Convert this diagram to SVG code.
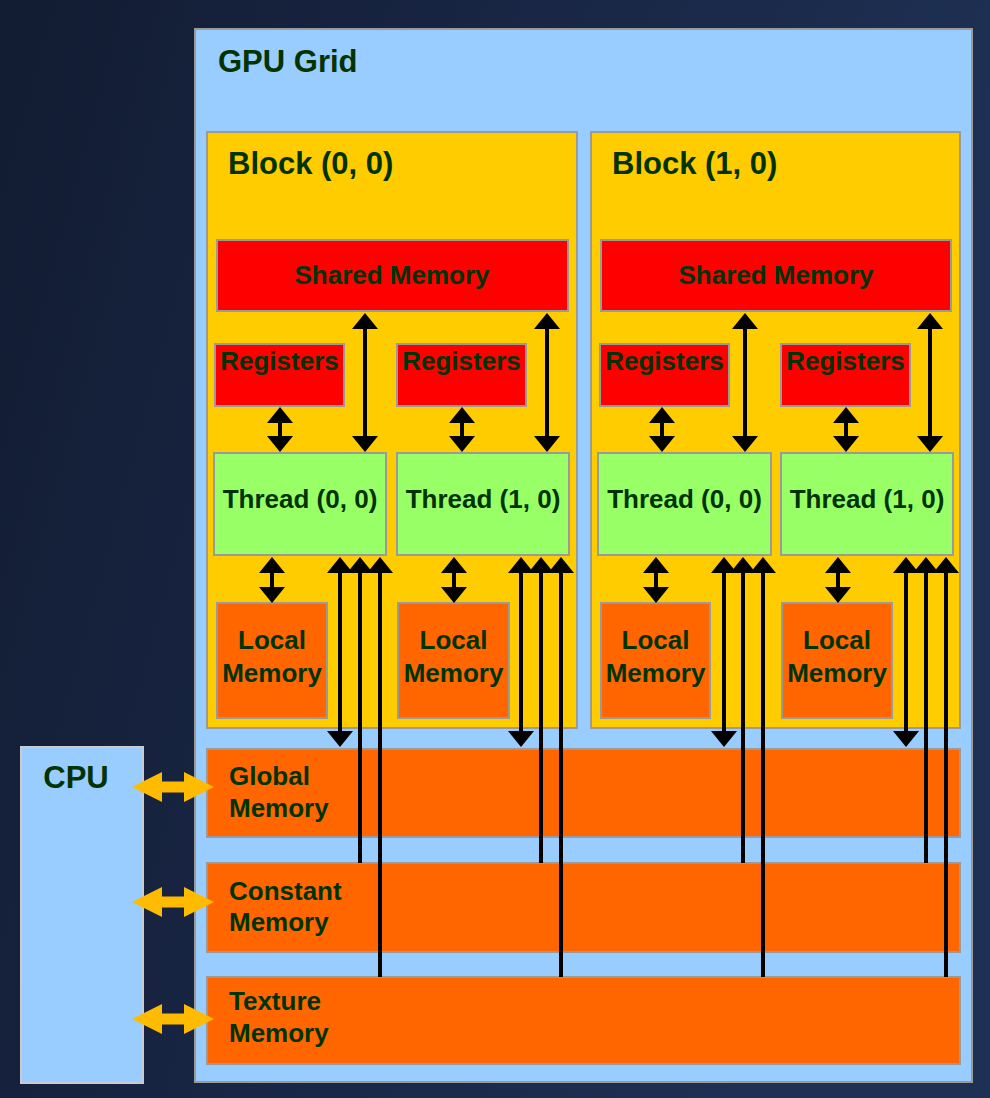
<svg xmlns="http://www.w3.org/2000/svg" width="990" height="1098" viewBox="0 0 990 1098">
<defs>
<linearGradient id="bg" x1="0" y1="0" x2="1" y2="0.3">
<stop offset="0" stop-color="#121c32"/>
<stop offset="0.6" stop-color="#1a2848"/>
<stop offset="1" stop-color="#1e3154"/>
</linearGradient>
<marker id="ah" viewBox="0 0 16 26" refX="13" refY="13" markerWidth="16" markerHeight="26" markerUnits="userSpaceOnUse" orient="auto-start-reverse">
<path d="M0,0 L16,13 L0,26 z" fill="#000"/>
</marker>
<g id="oarrow">
<path d="M0,0 L30,-15 L30,-5.5 L52,-5.5 L52,-15 L82,0 L52,15 L52,5.5 L30,5.5 L30,15 z" fill="#ffbb00"/>
</g>
</defs>
<style>
.t{font-family:"Liberation Sans",Arial,sans-serif;font-weight:bold;fill:#003300}
.h{font-size:31px}
.s{font-size:26px}
.c{text-anchor:middle}
.box{stroke:#9a9a9a;stroke-width:2}
.grid{fill:#99ccff}
.blk{fill:#ffcc00}
.red{fill:#ff0000}
.thr{fill:#99ff66}
.org{fill:#ff6600}
.ln{stroke:#000;stroke-width:4;fill:none}
.dbl{marker-start:url(#ah);marker-end:url(#ah)}
.up{marker-start:url(#ah)}
</style>
<rect width="990" height="1098" fill="url(#bg)"/>

<g id="cpu">
<rect x="21" y="747" width="122" height="336" fill="#99ccff" stroke="#c8ccd0" stroke-width="2"/>
<text class="t h c" x="76" y="788">CPU</text>
</g>

<g id="gpu-grid">
<rect class="box grid" x="195" y="29" width="777" height="1053"/>
<text class="t h" x="218" y="72">GPU Grid</text>
</g>

<g id="block-0-0">
<rect class="box blk" x="207" y="132" width="370" height="596"/>
<text class="t h" x="228" y="174">Block (0, 0)</text>
</g>
<g id="block-1-0">
<rect class="box blk" x="591" y="132" width="369" height="596"/>
<text class="t h" x="612" y="174">Block (1, 0)</text>
</g>

<g id="shared-0">
<rect class="box red" x="217" y="240" width="351" height="71"/>
<text class="t s c" x="392" y="284">Shared Memory</text>
</g>
<g id="shared-1">
<rect class="box red" x="601" y="240" width="350" height="71"/>
<text class="t s c" x="776" y="284">Shared Memory</text>
</g>

<g id="reg-0-0">
<rect class="box red" x="215" y="344" width="129" height="62"/>
<text class="t s c" x="279.5" y="370">Registers</text>
</g>
<g id="reg-0-1">
<rect class="box red" x="397" y="344" width="129" height="62"/>
<text class="t s c" x="461.5" y="370">Registers</text>
</g>
<g id="reg-1-0">
<rect class="box red" x="600" y="344" width="129" height="62"/>
<text class="t s c" x="664.5" y="370">Registers</text>
</g>
<g id="reg-1-1">
<rect class="box red" x="781" y="344" width="129" height="62"/>
<text class="t s c" x="845.5" y="370">Registers</text>
</g>

<g id="thread-0-0">
<rect class="box thr" x="214" y="453" width="172" height="102"/>
<text class="t s c" x="300" y="508">Thread (0, 0)</text>
</g>
<g id="thread-0-1">
<rect class="box thr" x="397" y="453" width="172" height="102"/>
<text class="t s c" x="483" y="508">Thread (1, 0)</text>
</g>
<g id="thread-1-0">
<rect class="box thr" x="598" y="453" width="173" height="102"/>
<text class="t s c" x="684.5" y="508">Thread (0, 0)</text>
</g>
<g id="thread-1-1">
<rect class="box thr" x="781" y="453" width="172" height="102"/>
<text class="t s c" x="867" y="508">Thread (1, 0)</text>
</g>

<g id="local-0-0">
<rect class="box org" x="217" y="603" width="110" height="115"/>
<text class="t s c" x="272" y="649">Local</text>
<text class="t s c" x="272" y="682">Memory</text>
</g>
<g id="local-0-1">
<rect class="box org" x="398" y="603" width="111" height="115"/>
<text class="t s c" x="453.5" y="649">Local</text>
<text class="t s c" x="453.5" y="682">Memory</text>
</g>
<g id="local-1-0">
<rect class="box org" x="601" y="603" width="109" height="115"/>
<text class="t s c" x="655.5" y="649">Local</text>
<text class="t s c" x="655.5" y="682">Memory</text>
</g>
<g id="local-1-1">
<rect class="box org" x="782" y="603" width="110" height="115"/>
<text class="t s c" x="837" y="649">Local</text>
<text class="t s c" x="837" y="682">Memory</text>
</g>

<g id="global-memory">
<rect class="box org" x="207" y="749" width="753" height="88"/>
<text class="t s" x="229" y="785">Global</text>
<text class="t s" x="229" y="817">Memory</text>
</g>
<g id="constant-memory">
<rect class="box org" x="207" y="863" width="753" height="89"/>
<text class="t s" x="229" y="900">Constant</text>
<text class="t s" x="229" y="931">Memory</text>
</g>
<g id="texture-memory">
<rect class="box org" x="207" y="977" width="753" height="87"/>
<text class="t s" x="229" y="1010">Texture</text>
<text class="t s" x="229" y="1042">Memory</text>
</g>

<g id="connectors">
<!-- registers <-> threads -->
<line class="ln dbl" x1="280" y1="410" x2="280" y2="449"/>
<line class="ln dbl" x1="462" y1="410" x2="462" y2="449"/>
<line class="ln dbl" x1="662" y1="410" x2="662" y2="449"/>
<line class="ln dbl" x1="846" y1="410" x2="846" y2="449"/>
<!-- shared <-> threads -->
<line class="ln dbl" x1="365" y1="316" x2="365" y2="449"/>
<line class="ln dbl" x1="547" y1="316" x2="547" y2="449"/>
<line class="ln dbl" x1="745" y1="316" x2="745" y2="449"/>
<line class="ln dbl" x1="930" y1="316" x2="930" y2="449"/>
<!-- threads <-> local -->
<line class="ln dbl" x1="272" y1="560" x2="272" y2="600"/>
<line class="ln dbl" x1="454" y1="560" x2="454" y2="600"/>
<line class="ln dbl" x1="656" y1="560" x2="656" y2="600"/>
<line class="ln dbl" x1="838" y1="560" x2="838" y2="600"/>
<!-- threads <-> global -->
<line class="ln dbl" x1="340" y1="560" x2="340" y2="744"/>
<line class="ln dbl" x1="521" y1="560" x2="521" y2="744"/>
<line class="ln dbl" x1="724" y1="560" x2="724" y2="744"/>
<line class="ln dbl" x1="906" y1="560" x2="906" y2="744"/>
<!-- constant -> threads -->
<line class="ln up" x1="360" y1="560" x2="360" y2="863"/>
<line class="ln up" x1="541" y1="560" x2="541" y2="863"/>
<line class="ln up" x1="743" y1="560" x2="743" y2="863"/>
<line class="ln up" x1="926" y1="560" x2="926" y2="863"/>
<!-- texture -> threads -->
<line class="ln up" x1="380" y1="560" x2="380" y2="977"/>
<line class="ln up" x1="561" y1="560" x2="561" y2="977"/>
<line class="ln up" x1="763" y1="560" x2="763" y2="977"/>
<line class="ln up" x1="946" y1="560" x2="946" y2="977"/>
<!-- CPU <-> device memories -->
<use href="#oarrow" x="132" y="787"/>
<use href="#oarrow" x="132" y="902"/>
<use href="#oarrow" x="132" y="1019"/>
</g>
</svg>
